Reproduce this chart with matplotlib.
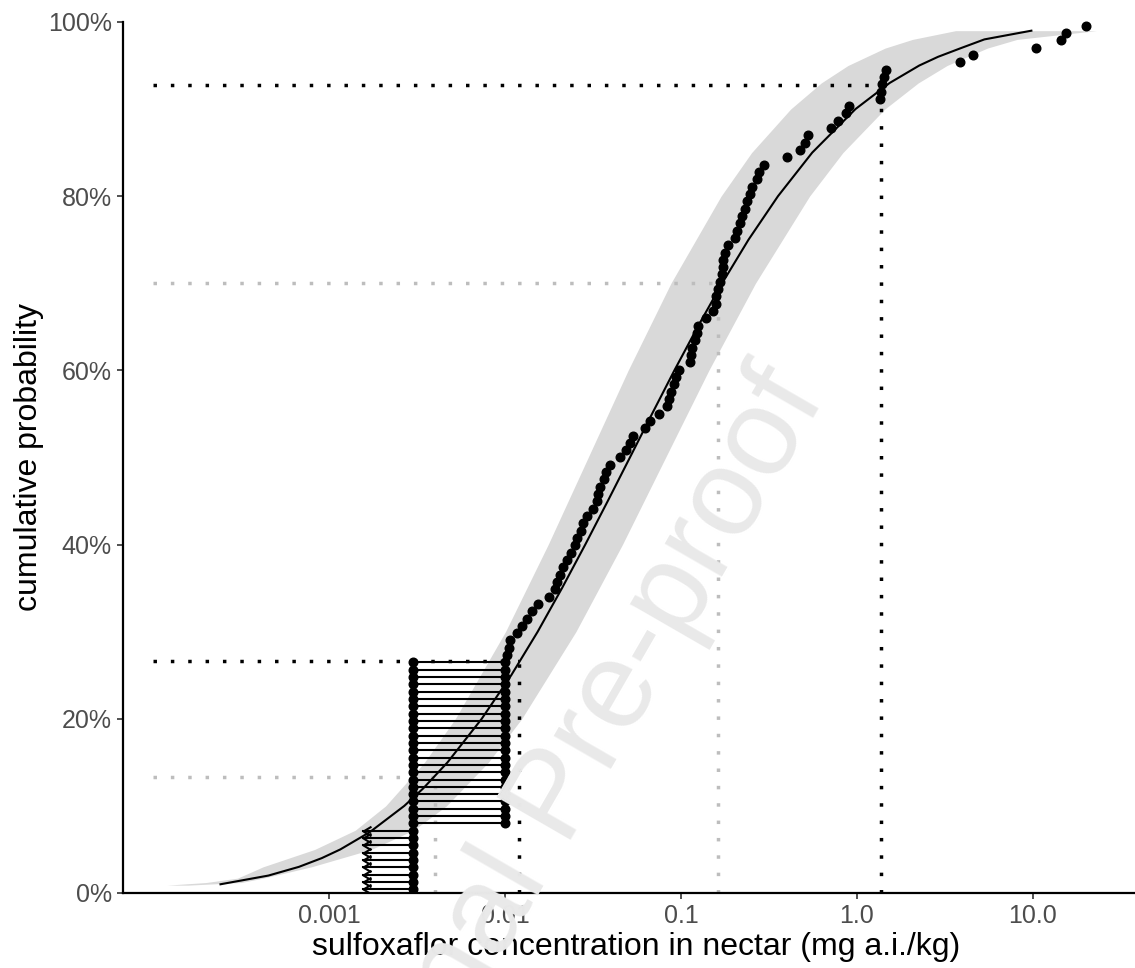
import numpy as np
import matplotlib.pyplot as plt
from matplotlib.path import Path
from matplotlib.ticker import FixedLocator, FixedFormatter, NullLocator

plt.rcParams['font.family'] = ['Liberation Sans', 'DejaVu Sans']


# ---------------------------------------------------------------------------
# Data (mg a.i./kg)
# ---------------------------------------------------------------------------

# censored samples: below LOD drawn as arrows, between LOD and LOQ as intervals
lod = 0.003
loq = 0.01
lod_arrow_end = 0.00156
n_below_lod = 9
n_lod_loq = 23

# detected residues, sorted
detected = [
    0.0103, 0.0105, 0.0107, 0.0117, 0.0125, 0.0133, 0.0142, 0.0154, 0.0178, 0.0192,
    0.0197, 0.0205, 0.0214, 0.0225, 0.0237, 0.0250, 0.0257, 0.0270, 0.0277, 0.0292,
    0.0316, 0.0333, 0.0338, 0.0347, 0.0365, 0.0375, 0.0395, 0.0450, 0.0487, 0.0513,
    0.0534, 0.0625, 0.0667, 0.0750, 0.0833, 0.0855, 0.0877, 0.0912, 0.0937, 0.0974,
    0.1125, 0.1140, 0.1155, 0.1200, 0.1233, 0.1250, 0.1387, 0.1520, 0.1580, 0.1585,
    0.1620, 0.1666, 0.1710, 0.1730, 0.1735, 0.1780, 0.1850, 0.2030, 0.2080, 0.2160,
    0.2220, 0.2310, 0.2370, 0.2470, 0.2530, 0.2710, 0.2770, 0.2960, 0.4000, 0.4740,
    0.5060, 0.5270, 0.7110, 0.7800, 0.8660, 0.9010, 1.350, 1.370, 1.390, 1.420,
    1.460, 3.850, 4.560, 10.4, 14.4, 15.4, 20.0,
]

# fitted lognormal cdf
fit_p = [0.01, 0.02, 0.03, 0.04, 0.05, 0.07, 0.10, 0.12, 0.15, 0.20, 0.25, 0.30,
         0.35, 0.40, 0.45, 0.50, 0.55, 0.60, 0.65, 0.70, 0.75, 0.80, 0.85, 0.90,
         0.93, 0.95, 0.96, 0.97, 0.98, 0.99]
fit_x = [0.000242, 0.000453, 0.000675, 0.00091, 0.00116, 0.00171, 0.00268, 0.00343,
         0.00472, 0.00738, 0.01086, 0.01535, 0.0211, 0.0286, 0.0384, 0.0513, 0.0685,
         0.0918, 0.1245, 0.1714, 0.242, 0.356, 0.557, 0.981, 1.535, 2.26, 2.89, 3.90,
         5.30, 9.80]

# confidence band: left and right edge for each probability
band_p = [0.009, 0.012, 0.017, 0.03, 0.05, 0.072, 0.10, 0.15, 0.20, 0.30, 0.40,
          0.50, 0.60, 0.70, 0.80, 0.85, 0.90, 0.93, 0.95, 0.97, 0.98, 0.99]
band_left = [1.20e-4, 2.00e-4, 3.02e-4, 4.22e-4, 8.3e-4, 1.41e-3, 2.10e-3, 3.49e-3,
             5.22e-3, 0.01007, 0.0176, 0.0297, 0.0501, 0.0877, 0.169, 0.252, 0.420,
             0.627, 0.889, 1.445, 2.07, 3.63]
band_right = [1.58e-4, 3.16e-4, 4.22e-4, 7.94e-4, 1.74e-3, 3.02e-3, 4.65e-3, 8.05e-3,
              0.01245, 0.0253, 0.0465, 0.0818, 0.144, 0.265, 0.538, 0.832, 1.44,
              2.23, 3.25, 5.51, 8.13, 22.9]

# reference percentiles
ref_x = [0.0040, 0.0120, 0.162, 1.37]
ref_p = [0.133, 0.266, 0.700, 0.928]
ref_col = ['#BDBDBD', 'black', '#BDBDBD', 'black']
ref_start = 1e-4

x_ticks = [0.001, 0.01, 0.1, 1.0, 10.0]
x_tick_labels = ['0.001', '0.01', '0.1', '1.0', '10.0']
y_ticks = [0, 0.2, 0.4, 0.6, 0.8, 1.0]
y_tick_labels = ['0%', '20%', '40%', '60%', '80%', '100%']


# ---------------------------------------------------------------------------
# Plotting positions
# ---------------------------------------------------------------------------

n = n_below_lod + n_lod_loq + len(detected)
pp = (np.arange(1, n + 1) - 0.5) / n
p_below = pp[:n_below_lod]
p_inter = pp[n_below_lod:n_below_lod + n_lod_loq]
p_det = pp[n_below_lod + n_lod_loq:]


# ---------------------------------------------------------------------------
# Figure
# ---------------------------------------------------------------------------

fig = plt.figure(figsize=(11.35, 9.68), dpi=100)
ax = fig.add_axes([0.1084, 0.0775, 0.904, 0.8998])

ax.fill_betweenx(band_p, band_left, band_right, color='#D9D9D9', lw=0, zorder=1)

for xr, pr, col in zip(ref_x, ref_p, ref_col):
    ax.plot([ref_start, xr], [pr, pr], color=col, lw=2.5, ls=(0, (1, 4)), zorder=2)
    ax.plot([xr, xr], [0, pr], color=col, lw=2.5, ls=(0, (1, 4)), zorder=2)

# censored observations
chevron = Path([(1, 0.6), (0, 0), (1, -0.6)], [Path.MOVETO, Path.LINETO, Path.LINETO])
for p in p_below:
    ax.plot([lod_arrow_end, lod], [p, p], color='black', lw=1.5, zorder=3)
ax.plot([lod_arrow_end] * n_below_lod, p_below, ls='none', marker=chevron, ms=11.5,
        mec='black', mfc='none', mew=1.5, zorder=3)
for p in p_inter:
    ax.plot([lod, loq], [p, p], color='black', lw=1.5, zorder=3)
ax.plot([lod] * (n_below_lod + n_lod_loq), np.concatenate([p_below, p_inter]),
        ls='none', marker='o', ms=6.2, color='black', zorder=4)
ax.plot([loq] * n_lod_loq, p_inter, ls='none', marker='o', ms=6.2, color='black',
        zorder=4)

ax.plot(fit_x, fit_p, color='black', lw=1.5, zorder=5)
ax.plot(detected, p_det, ls='none', marker='o', ms=6.2, color='black', zorder=6,
        clip_on=False)

ax.set_xscale('log')
ax.set_xlim(10 ** -4.17, 10 ** 1.66)
ax.set_ylim(0, 1)
ax.xaxis.set_major_locator(FixedLocator(x_ticks))
ax.xaxis.set_major_formatter(FixedFormatter(x_tick_labels))
ax.xaxis.set_minor_locator(NullLocator())
ax.yaxis.set_major_locator(FixedLocator(y_ticks))
ax.yaxis.set_major_formatter(FixedFormatter(y_tick_labels))

for side in ('top', 'right'):
    ax.spines[side].set_visible(False)
for side in ('left', 'bottom'):
    ax.spines[side].set_linewidth(1.6)
ax.tick_params(axis='both', length=4, width=1.2, color='#333333', labelcolor='#4D4D4D',
               labelsize=18, pad=4)

ax.set_xlabel('sulfoxaflor concentration in nectar (mg a.i./kg)', fontsize=23,
              color='black')
ax.set_ylabel('cumulative probability', fontsize=23, color='black')
ax.xaxis.set_label_coords(0.5, -0.045)
ax.yaxis.set_label_coords(-0.077, 0.5)

# watermark of the source document
fig.text(0.728, 0.590, 'Journal Pre-proof', fontsize=90, rotation=60,
         rotation_mode='anchor', ha='right', va='baseline', color='#E9E9E9',
         zorder=10)

fig.savefig('out.png', dpi=100)
